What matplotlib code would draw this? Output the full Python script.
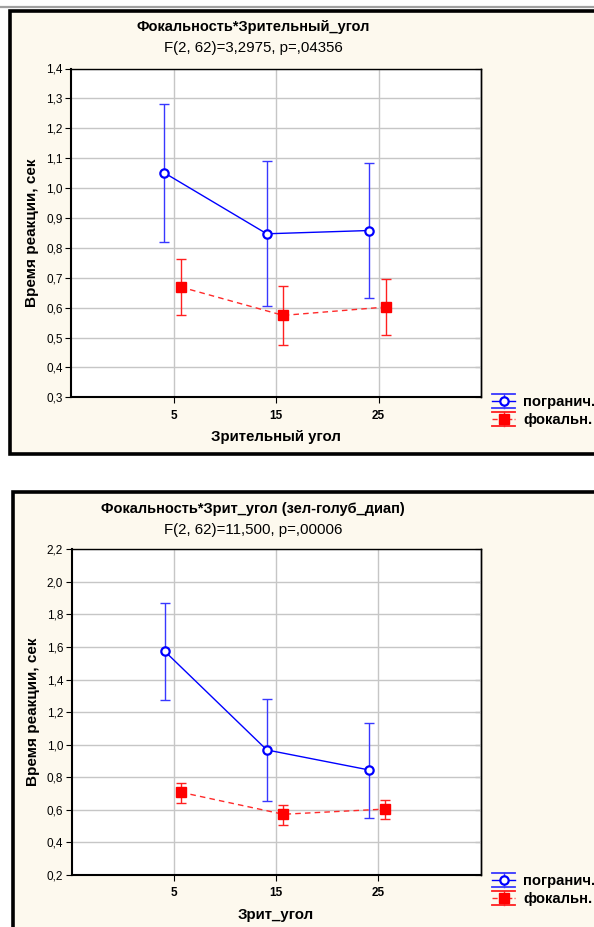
import numpy as np
import matplotlib
matplotlib.use("Agg")
import matplotlib.pyplot as plt
from matplotlib.patches import Rectangle
from matplotlib.lines import Line2D
from matplotlib.legend_handler import HandlerBase
from matplotlib.ticker import FuncFormatter

plt.rcParams['font.family'] = ['Liberation Sans', 'DejaVu Sans']

# данные: угол зрения, средние и границы доверительных интервалов
angles = ['5', '15', '25']
groups = ['погранич.', 'фокальн.']

# график 1: Зрительный угол
mean1_border = [1.051, 0.847, 0.858]
low1_border = [0.819, 0.604, 0.632]
high1_border = [1.280, 1.089, 1.084]
mean1_focal = [0.669, 0.574, 0.602]
low1_focal = [0.574, 0.475, 0.510]
high1_focal = [0.763, 0.673, 0.695]

# график 2: Зрит_угол (зел-голуб_диап)
mean2_border = [1.575, 0.968, 0.845]
low2_border = [1.275, 0.656, 0.552]
high2_border = [1.872, 1.279, 1.131]
mean2_focal = [0.708, 0.573, 0.605]
low2_focal = [0.644, 0.507, 0.544]
high2_focal = [0.767, 0.630, 0.660]

W, H = 594, 927
BG = '#fdf9ee'
BLUE = '#0000ff'
BLUE_ERR = '#3838ff'
RED = '#ff2a2a'
RED_ERR = '#ff2020'


class ErrHandler(HandlerBase):
    # значок легенды как в Statistica: линия, маркер и две "шапки"
    def create_artists(self, legend, orig, xdescent, ydescent, width, height, fontsize, trans):
        yc = height / 2 - ydescent
        d = 5
        arts = []
        for yy in (yc + d, yc - d):
            arts.append(Line2D([0, width], [yy, yy], color=orig.err_color, lw=1.3))
        arts.append(Line2D([width / 2, width / 2], [yc - d, yc + d], color=orig.err_color, lw=1.0))
        arts.append(Line2D([0, width], [yc, yc], color=orig.get_color(), lw=1.0,
                           linestyle=orig.get_linestyle()))
        arts.append(Line2D([width / 2], [yc], marker=orig.get_marker(), markersize=orig.get_markersize(),
                           markerfacecolor=orig.get_markerfacecolor(), markeredgecolor=orig.get_markeredgecolor(),
                           markeredgewidth=orig.get_markeredgewidth(), linestyle='none'))
        for a in arts:
            a.set_transform(trans)
        return arts


def comma_fmt(v, pos):
    return f"{v:.1f}".replace('.', ',')


def panel(ax_box, title, subtitle, title_y, xlabel, ylim, ystep, data, legend_y):
    ax = fig.add_axes(ax_box)
    ax.set_facecolor('white')
    x = np.arange(len(angles))
    (mb, lb, hb), (mf, lf, hf) = data
    mb, lb, hb = np.array(mb), np.array(lb), np.array(hb)
    mf, lf, hf = np.array(mf), np.array(lf), np.array(hf)

    ax.errorbar(x - 0.09, mb, yerr=[mb - lb, hb - mb], fmt='none', ecolor=BLUE_ERR,
                elinewidth=1.0, capsize=3.8, capthick=1.0, zorder=3)
    lb_line, = ax.plot(x - 0.09, mb, color=BLUE, lw=1.0, marker='o', markersize=6,
                       markerfacecolor='white', markeredgecolor=BLUE, markeredgewidth=1.6, zorder=4)
    ax.errorbar(x + 0.07, mf, yerr=[mf - lf, hf - mf], fmt='none', ecolor=RED_ERR,
                elinewidth=1.0, capsize=3.8, capthick=1.0, zorder=3)
    lf_line, = ax.plot(x + 0.07, mf, color=RED, lw=1.0, linestyle=(0, (4, 3)), marker='s',
                       markersize=6.5, markerfacecolor='#ff0000', markeredgecolor='#ff0000', zorder=4)
    lb_line.err_color = BLUE_ERR
    lf_line.err_color = RED_ERR

    ax.set_xlim(-1, 3)
    ax.set_ylim(*ylim)
    ax.set_xticks(x)
    ax.set_xticklabels(angles, fontweight='bold', fontsize=8.5)
    yt = np.arange(ylim[0], ylim[1] + 1e-9, ystep)
    ax.set_yticks(yt)
    ax.yaxis.set_major_formatter(FuncFormatter(comma_fmt))
    ax.tick_params(axis='y', labelsize=8.5, length=4, width=0.8, pad=2)
    ax.tick_params(axis='x', length=4, width=0.8, pad=5)
    # засечки справа смотрят внутрь
    sec = ax.secondary_yaxis('right')
    sec.set_yticks(yt)
    sec.tick_params(direction='in', length=4, width=0.8, labelright=False)
    sec.spines['right'].set_linewidth(1.0)

    ax.grid(True, color='#c6c6c6', lw=1.0)
    ax.set_axisbelow(True)
    for s in ax.spines.values():
        s.set_linewidth(1.0)
    ax.spines['left'].set_linewidth(1.5)
    ax.spines['bottom'].set_linewidth(1.5)

    ax.set_xlabel(xlabel, fontweight='bold', fontsize=10.8, labelpad=6)
    ax.set_ylabel('Время реакции, сек', fontweight='bold', fontsize=11, labelpad=5)

    fig.text(253 / W, 1 - title_y / H, title, ha='center', va='center', fontweight='bold', fontsize=10.5)
    fig.text(253 / W, 1 - (title_y + 21) / H, subtitle, ha='center', va='center', fontsize=10.8)

    ax.legend([lb_line, lf_line], groups, handler_map={Line2D: ErrHandler()},
              loc='center left', bbox_to_anchor=(485 / W, 1 - legend_y / H),
              bbox_transform=fig.transFigure, frameon=False,
              prop={'weight': 'bold', 'size': 10.7}, handlelength=1.55, handletextpad=0.5,
              labelspacing=0.3, borderpad=0)
    return ax


fig = plt.figure(figsize=(W / 100, H / 100), dpi=100)
fig.patch.set_facecolor('white')

# рамки панелей
fig.add_artist(Line2D([0, 1], [1 - 7 / H, 1 - 7 / H], color='#a0a0a0', lw=1.6,
                      transform=fig.transFigure))
fig.add_artist(Rectangle((10 / W, 1 - 453.5 / H), 600 / W, 442.5 / H, facecolor=BG,
                         edgecolor='black', lw=2.6, transform=fig.transFigure, zorder=0))
fig.add_artist(Rectangle((13 / W, 1 - 940 / H), 600 / W, 448 / H, facecolor=BG,
                         edgecolor='black', lw=2.6, transform=fig.transFigure, zorder=0))

panel([71 / W, 1 - 397.3 / H, 410 / W, 328.8 / H],
      'Фокальность*Зрительный_угол', 'F(2, 62)=3,2975, p=,04356', 27,
      'Зрительный угол', (0.3, 1.4), 0.1,
      ((mean1_border, low1_border, high1_border), (mean1_focal, low1_focal, high1_focal)),
      411)

panel([71.5 / W, 1 - 875 / H, 409 / W, 325.7 / H],
      'Фокальность*Зрит_угол (зел-голуб_диап)', 'F(2, 62)=11,500, p=,00006', 509,
      'Зрит_угол', (0.2, 2.2), 0.2,
      ((mean2_border, low2_border, high2_border), (mean2_focal, low2_focal, high2_focal)),
      890)

fig.savefig('out.png', dpi=100, facecolor=fig.get_facecolor())
